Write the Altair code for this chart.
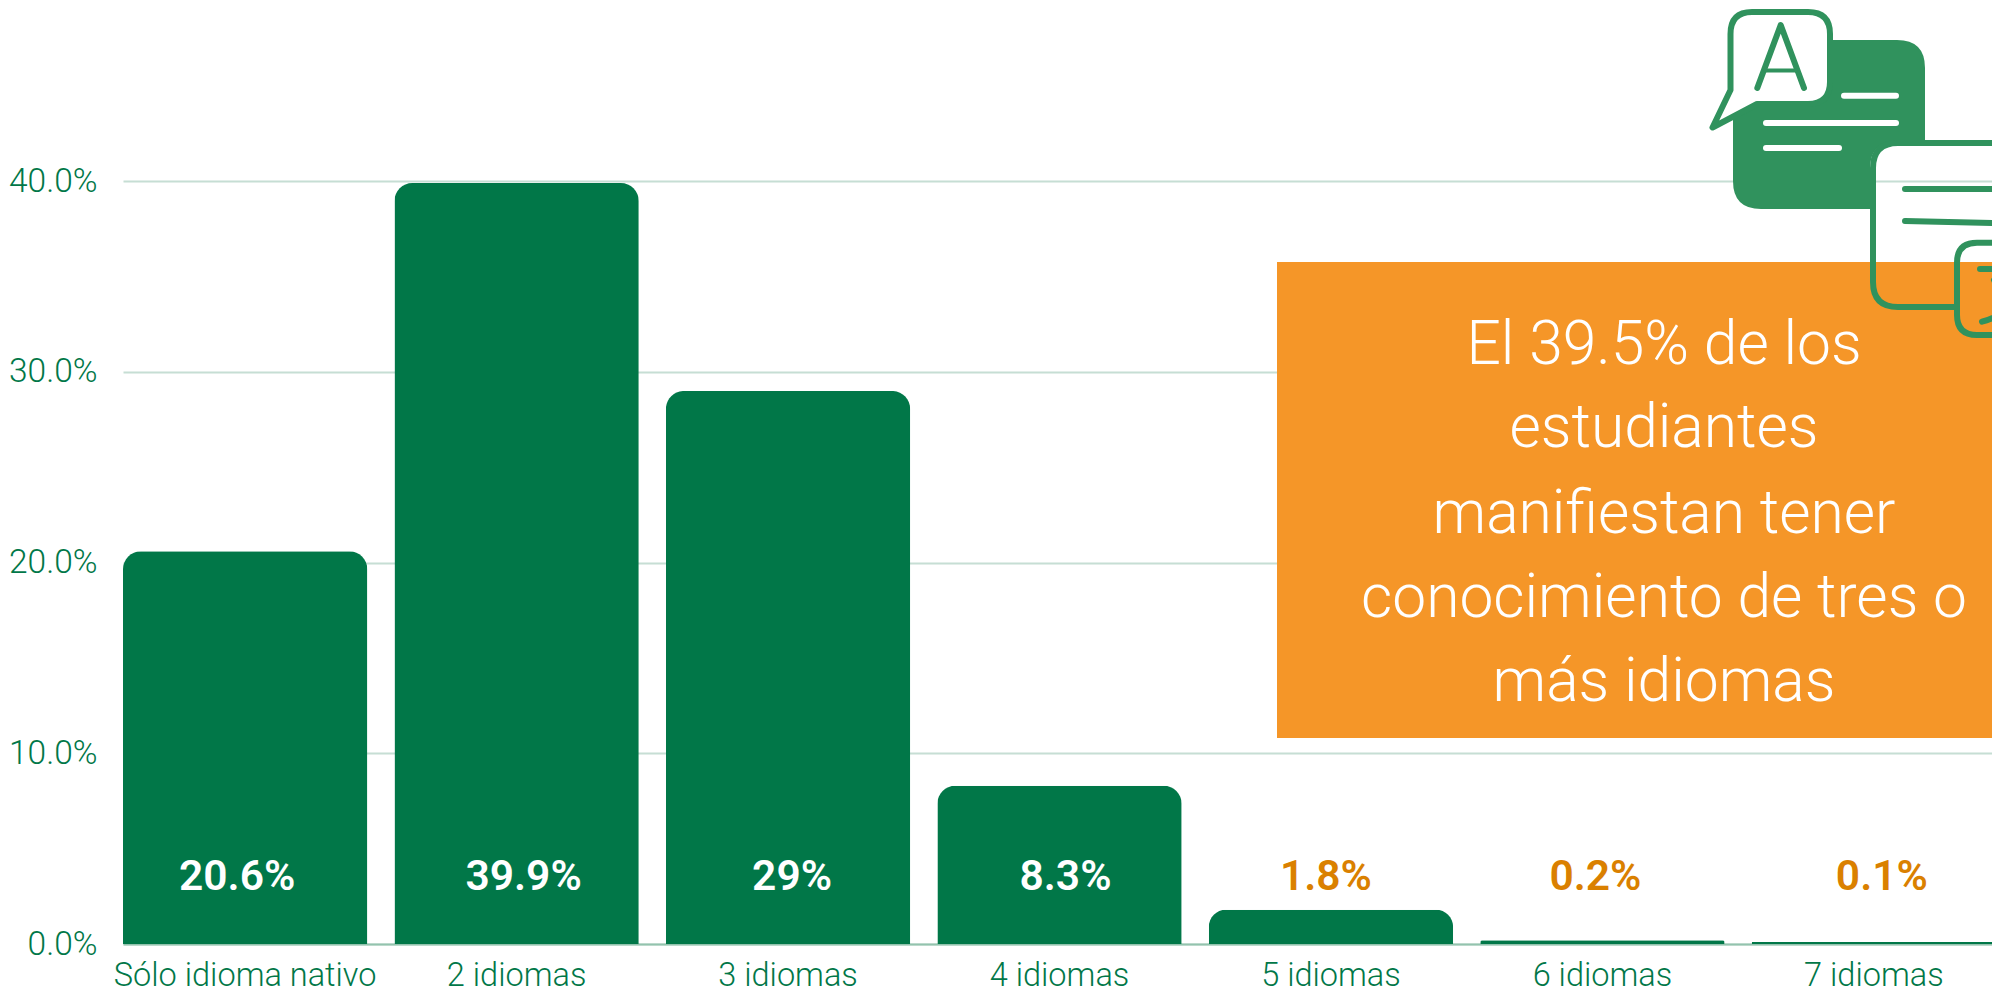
import altair as alt
import pandas as pd

categories = ["Sólo idioma nativo", "2 idiomas", "3 idiomas", "4 idiomas", "5 idiomas", "6 idiomas", "7 idiomas"]
values = [20.6, 39.9, 29.0, 8.3, 1.8, 0.2, 0.1]
value_labels = ["20.6%", "39.9%", "29%", "8.3%", "1.8%", "0.2%", "0.1%"]
y_ticks = [0, 10, 20, 30, 40]
callout_lines = ["El 39.5% de los", "estudiantes", "manifiestan tener", "conocimiento de tres o", "más idiomas"]

GREEN = "#017748"
ICON = "#30925D"
ORANGE = "#F59628"
LABEL_ORANGE = "#DA8000"
GRID = "#C6DED4"
FONT = "Roboto"

OX, OY = 123, 8  # page position of the plot origin
PW, PH = 1869, 936
Y_MAX = PH / 19.07

df = pd.DataFrame({"cat": categories, "val": values, "lab": value_labels})
x_scale = alt.Scale(domain=categories, range=[0, 1873], paddingInner=0.1, paddingOuter=0)
y_scale = alt.Scale(domain=[0, Y_MAX], nice=False)
one = pd.DataFrame({"a": [0]})

layers = []

bars = alt.Chart(df).mark_bar(
    color=GREEN, cornerRadiusTopLeft=18, cornerRadiusTopRight=18
).encode(
    x=alt.X("cat:N", scale=x_scale, sort=categories, title=None,
            axis=alt.Axis(labelAngle=0, ticks=False, labelPadding=15, labelFont=FONT, labelFontWeight=300,
                          labelFontSize=32.5, labelColor=GREEN, domainColor="#93C3AE", domainWidth=2,
                          grid=False, labelBaseline="top", labelLimit=400)),
    y=alt.Y("val:Q", scale=y_scale, title=None,
            axis=alt.Axis(values=y_ticks, labelExpr="format(datum.value, '.1f') + '%'", ticks=False, domain=False,
                          labelPadding=26, labelFont=FONT, labelFontWeight=300, labelFontSize=33.5,
                          labelColor=GREEN, grid=True, gridColor=GRID, gridWidth=2)),
)
layers.append(bars)


def path(d, **kw):
    return alt.Chart(one).mark_point(shape=d, size=4, opacity=1, strokeCap="round", strokeJoin="round", **kw).encode(
        x=alt.value(-OX), y=alt.value(-OY))


def stroke(d, color=ICON, w=6):
    return path(d, filled=False, stroke=color, strokeWidth=w)


# Icon: dark speech bubble, with the corner of the second bubble cut out
layers.append(path(
    "M1761,40 H1897 Q1925,40 1925,68 V141 H1898 Q1870,141 1870,169 V209 H1761 Q1733,209 1733,181 V68 Q1733,40 1761,40 Z",
    filled=True, fill=ICON, strokeWidth=0))
layers.append(stroke("M1844,95.7 H1896", "white", 6))
layers.append(stroke("M1766,123 H1896", "white", 6))
layers.append(stroke("M1766,148 H1839", "white", 6))
# Icon: white bubble with the letter A
layers.append(path(
    "M1730.5,90 L1712.5,127.5 L1757,104 H1808 Q1830,104 1830,82 V34 Q1830,12 1808,12 H1752 Q1730.5,12 1730.5,34 Z",
    filled=True, fill="white", stroke=ICON, strokeWidth=6))
layers.append(stroke("M1757.3,88 L1780.7,25 L1804,88"))
layers.append(stroke("M1765,70.5 H1796", w=4))

# Callout box
layers.append(alt.Chart(one).mark_rect(color=ORANGE).encode(
    x=alt.value(1277 - OX), x2=alt.value(2000 - OX), y=alt.value(262 - OY), y2=alt.value(738 - OY)))

# Icon: outlined bubbles over the box
layers.append(stroke("M2100,143 H1898 Q1873,143 1873,168 V282 Q1873,307 1898,307 H1957"))
layers.append(stroke("M1905,189 H2100"))
layers.append(stroke("M1905,221 L1992,223"))
layers.append(stroke("M2100,242.7 H1977 Q1957,242.7 1957,262.7 V315 Q1957,335 1977,335 H2100"))
layers.append(stroke("M1980,269 H2100"))
layers.append(stroke("M1994,280 L2005,303"))
layers.append(stroke("M1982,321.7 Q1995,318 2005,311"))

# Callout text
for line, yy in zip(callout_lines, [345.5, 428.5, 514.5, 598.5, 682.5]):
    layers.append(alt.Chart(one).mark_text(
        text=line, font=FONT, fontWeight=300, fontSize=60.5, color="white", baseline="middle", align="center"
    ).encode(x=alt.value(1664 - OX), y=alt.value(yy - OY)))

# Value labels
for i, nudge in enumerate([-8, 7, 4, 6, -5, -7, 8]):
    layers.append(alt.Chart(df.iloc[[i]]).mark_text(
        font=FONT, fontWeight=600, fontSize=42.5, baseline="middle", align="center", dx=nudge,
        color="white" if i < 4 else LABEL_ORANGE
    ).encode(x=alt.X("cat:N", scale=x_scale, sort=categories), y=alt.value(877 - OY), text="lab:N"))

chart = alt.layer(*layers).properties(
    width=PW, height=PH,
    padding={"left": OX - 8, "top": 0, "right": 0, "bottom": 49},
    autosize=alt.AutoSizeParams(type="none"),
).configure_view(stroke=None)

chart.save("out.html", embed_options={"renderer": "svg", "actions": False})
